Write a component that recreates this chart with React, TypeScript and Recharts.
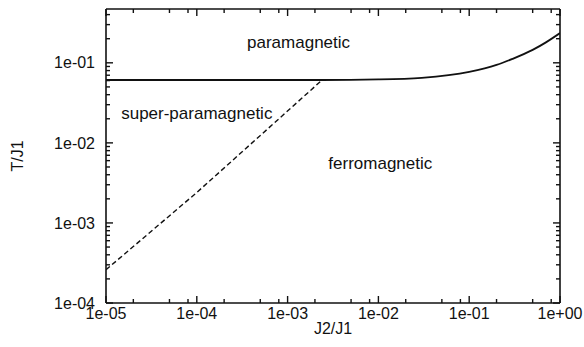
import { LineChart, Line, XAxis, YAxis, ReferenceDot, Label } from 'recharts';

// phase boundary between para- and ordered phases (solid)
const solidJ2 = [1e-5, 1e-4, 1e-3, 2.4e-3, 1e-2, 3e-2, 1e-1, 2e-1, 3e-1, 5e-1, 7e-1, 1];
const solidT = [0.061, 0.061, 0.061, 0.061, 0.062, 0.065, 0.077, 0.094, 0.112, 0.145, 0.18, 0.235];

// super-paramagnetic / ferromagnetic crossover (dashed)
const dashedJ2 = [1e-5, 1e-4, 2.4e-3];
const dashedT = [2.6e-4, 2.4e-3, 0.061];

const xMajor = [1e-5, 1e-4, 1e-3, 1e-2, 1e-1, 1];
const xTickLabels = ['1e-05', '1e-04', '1e-03', '1e-02', '1e-01', '1e+00'];
const xMinorSteps = [2, 5, 8];

const yMajor = [1e-4, 1e-3, 1e-2, 1e-1];
const yTickLabels = ['1e-04', '1e-03', '1e-02', '1e-01'];
const yMinorSteps = [2, 3, 4, 5, 6, 7, 8, 9];

const regionLabels = [
  { text: 'paramagnetic', j2: 1.32e-3, t: 0.183 },
  { text: 'super-paramagnetic', j2: 1.0e-4, t: 0.0237 },
  { text: 'ferromagnetic', j2: 1.05e-2, t: 0.0056 },
];

const X_DOMAIN: [number, number] = [1e-5, 1];
const Y_DOMAIN: [number, number] = [1e-4, 0.47];

const solidData = solidJ2.map((j, i) => ({ j, t: solidT[i] }));
const dashedData = dashedJ2.map((j, i) => ({ j, t: dashedT[i] }));

const buildTicks = (majors: number[], steps: number[], max: number) => {
  const out: number[] = [];
  majors.forEach((m) => {
    out.push(m);
    steps.forEach((s) => {
      if (s * m <= max) out.push(s * m);
    });
  });
  return out.filter((v) => v <= max);
};

const xTicks = buildTicks(xMajor, xMinorSteps, X_DOMAIN[1]);
const yTicks = buildTicks(yMajor, yMinorSteps, Y_DOMAIN[1]);

const labelFor = (v: number, majors: number[], labels: string[]) => {
  const idx = majors.findIndex((m) => Math.abs(m - v) / m < 1e-6);
  return idx >= 0 ? labels[idx] : null;
};

const FONT = '"Liberation Sans", Arial, Helvetica, sans-serif';
const INK = '#111';
const MAJOR_LEN = 7;
const MINOR_LEN = 4;
const FRAME = { stroke: INK, strokeWidth: 1.6, style: { stroke: INK, strokeWidth: 1.6 } };

// inline style: plain stroke attributes get overridden on tick groups
const Mark = ({ x1, y1, x2, y2 }: { x1: number; y1: number; x2: number; y2: number }) => (
  <line x1={x1} y1={y1} x2={x2} y2={y2} style={{ stroke: INK, strokeWidth: 1.4 }} />
);

const BottomTick = (props: any) => {
  const x = Number(props.x);
  const y = Number(props.y);
  const lab = labelFor(props.payload.value, xMajor, xTickLabels);
  const len = lab ? MAJOR_LEN : MINOR_LEN;
  return (
    <g>
      <Mark x1={x} y1={y} x2={x} y2={y - len} />
      {lab && (
        <text x={x} y={y + 5} dy="0.71em" textAnchor="middle" fontFamily={FONT} fontSize={16} fill={INK}>
          {lab}
        </text>
      )}
    </g>
  );
};

const TopTick = (props: any) => {
  const x = Number(props.x);
  const y = Number(props.y);
  const lab = labelFor(props.payload.value, xMajor, xTickLabels);
  const len = lab ? MAJOR_LEN : MINOR_LEN;
  return (
    <g>
      <Mark x1={x} y1={y} x2={x} y2={y + len} />
    </g>
  );
};

const LeftTick = (props: any) => {
  const x = Number(props.x);
  const y = Number(props.y);
  const lab = labelFor(props.payload.value, yMajor, yTickLabels);
  const len = lab ? MAJOR_LEN : MINOR_LEN;
  return (
    <g>
      <Mark x1={x} y1={y} x2={x + len} y2={y} />
      {lab && (
        <text x={x - 11} y={y} dy="0.355em" textAnchor="end" fontFamily={FONT} fontSize={16} fill={INK}>
          {lab}
        </text>
      )}
    </g>
  );
};

const RightTick = (props: any) => {
  const x = Number(props.x);
  const y = Number(props.y);
  const lab = labelFor(props.payload.value, yMajor, yTickLabels);
  const len = lab ? MAJOR_LEN : MINOR_LEN;
  return (
    <g>
      <Mark x1={x} y1={y} x2={x - len} y2={y} />
    </g>
  );
};

const YTitle = (props: any) => {
  const vb = props.viewBox || { x: 0, y: 0, width: 0, height: 0 };
  const cx = vb.x + 17;
  const cy = vb.y + vb.height / 2;
  return (
    <text
      x={cx}
      y={cy}
      transform={`rotate(-90, ${cx}, ${cy})`}
      textAnchor="middle"
      dy="0.36em"
      fontFamily={FONT}
      fontSize={16}
      fill={INK}
    >
      T/J1
    </text>
  );
};

export default function App() {
  return (
    <div style={{ position: 'absolute', left: 0, top: 0, width: 584, height: 347, background: '#fff' }}>
      <LineChart width={584} height={347} margin={{ top: 8, right: 23, bottom: 0, left: 0 }}>
        <XAxis
          xAxisId="b"
          dataKey="j"
          type="number"
          scale="log"
          domain={X_DOMAIN}
          allowDataOverflow
          ticks={xTicks}
          interval={0}
          height={44}
          tickSize={0}
          tickMargin={0}
          tickLine={false}
          tick={(p: any) => <BottomTick {...p} />}
          axisLine={FRAME}
        >
          <Label value="J2/J1" position="insideBottom" offset={13} fontFamily={FONT} fontSize={16} fill={INK} />
        </XAxis>
        <XAxis
          xAxisId="t"
          orientation="top"
          dataKey="j"
          type="number"
          scale="log"
          domain={X_DOMAIN}
          allowDataOverflow
          ticks={xTicks}
          interval={0}
          height={1}
          tickSize={0}
          tickMargin={0}
          tickLine={false}
          tick={(p: any) => <TopTick {...p} />}
          axisLine={FRAME}
        />
        <YAxis
          yAxisId="l"
          type="number"
          scale="log"
          domain={Y_DOMAIN}
          allowDataOverflow
          ticks={yTicks}
          interval={0}
          width={106}
          tickSize={0}
          tickMargin={0}
          tickLine={false}
          tick={(p: any) => <LeftTick {...p} />}
          axisLine={FRAME}
        >
          <Label content={(p: any) => <YTitle {...p} />} />
        </YAxis>
        <YAxis
          yAxisId="r"
          orientation="right"
          type="number"
          scale="log"
          domain={Y_DOMAIN}
          allowDataOverflow
          ticks={yTicks}
          interval={0}
          width={1}
          tickSize={0}
          tickMargin={0}
          tickLine={false}
          tick={(p: any) => <RightTick {...p} />}
          axisLine={FRAME}
        />
        {/* binds the mirror axes so they get a scale */}
        <Line
          xAxisId="t"
          yAxisId="r"
          data={solidData}
          dataKey="t"
          stroke="none"
          dot={false}
          activeDot={false}
          isAnimationActive={false}
        />
        <Line
          xAxisId="b"
          yAxisId="l"
          data={solidData}
          dataKey="t"
          type="monotone"
          stroke={INK}
          strokeWidth={1.8}
          dot={false}
          isAnimationActive={false}
        />
        <Line
          xAxisId="b"
          yAxisId="l"
          data={dashedData}
          dataKey="t"
          type="linear"
          stroke={INK}
          strokeWidth={1.4}
          strokeDasharray="5 3"
          dot={false}
          isAnimationActive={false}
        />
        {regionLabels.map((r) => (
          <ReferenceDot
            key={r.text}
            xAxisId="b"
            yAxisId="l"
            x={r.j2}
            y={r.t}
            r={0}
            fill="none"
            stroke="none"
          >
            <Label value={r.text} position="center" fontFamily={FONT} fontSize={17} fill={INK} />
          </ReferenceDot>
        ))}
      </LineChart>
    </div>
  );
}
